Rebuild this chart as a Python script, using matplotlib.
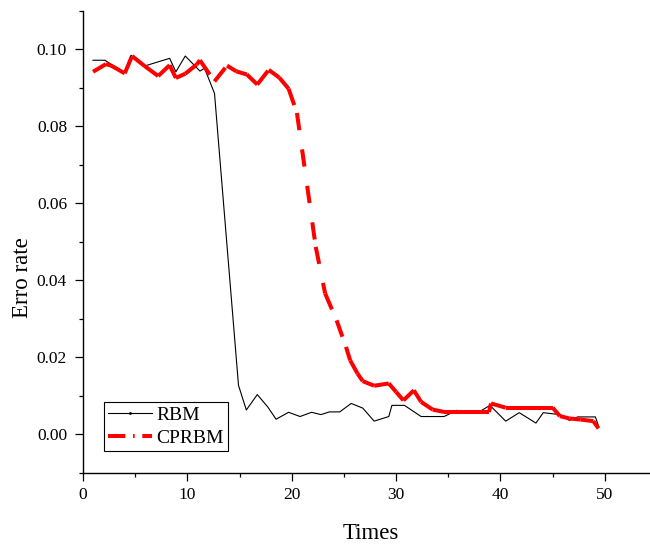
import matplotlib
matplotlib.use("Agg")
import matplotlib.pyplot as plt
from matplotlib.lines import Line2D

plt.rcParams['font.family'] = ['Liberation Serif', 'DejaVu Serif']
plt.rcParams['lines.scale_dashes'] = False

# RBM (black thin line)
rbm_x = [0.96, 2.1, 2.9, 4.0, 4.6, 5.9, 8.3, 8.9, 9.8, 11.2, 11.65, 12.6, 14.9,
         15.65, 16.7, 17.7, 18.5, 19.7, 20.8, 21.9, 22.8, 23.6, 24.6, 25.7, 26.8,
         27.9, 29.3, 29.6, 30.8, 32.4, 34.6, 35.8, 37.7, 39.0, 40.5, 41.8, 43.4,
         44.1, 45.7, 46.6, 47.4, 49.1, 49.4]
rbm_y = [0.0972, 0.0972, 0.0958, 0.0940, 0.0985, 0.0957, 0.0977, 0.0942, 0.0983,
         0.0944, 0.0951, 0.0886, 0.0127, 0.0063, 0.0103, 0.0071, 0.0039, 0.0057,
         0.0046, 0.0057, 0.0051, 0.0058, 0.0058, 0.0080, 0.0068, 0.0034, 0.0046,
         0.0075, 0.0075, 0.0046, 0.0046, 0.0062, 0.0054, 0.0075, 0.0034, 0.0056,
         0.0029, 0.0056, 0.0051, 0.0036, 0.0045, 0.0045, 0.0021]

# CPRBM (red dash-dot line)
cp_x = [0.96, 2.2, 2.7, 4.0, 4.7, 5.9, 7.2, 8.3, 8.9, 9.8, 10.9, 11.2, 12.6, 13.8,
        14.7, 15.7, 16.7, 17.8, 18.8, 19.7, 20.5, 22.3, 23.2, 24.3, 25.2, 25.6,
        26.3, 26.8, 27.9, 29.3, 30.0, 30.7, 31.7, 32.4, 33.5, 34.6, 35.7, 36.8,
        37.8, 38.9, 39.1, 40.5, 41.6, 42.7, 43.8, 45.0, 45.7, 46.6, 47.7, 48.9,
        49.4]
cp_y = [0.0942, 0.0962, 0.0958, 0.0938, 0.0983, 0.0957, 0.0931, 0.0959, 0.0926,
        0.0937, 0.0961, 0.0972, 0.0917, 0.0958, 0.0943, 0.0935, 0.0909, 0.0947,
        0.0927, 0.0898, 0.0835, 0.0487, 0.0366, 0.0296, 0.0227, 0.0192, 0.0158,
        0.0138, 0.0126, 0.0132, 0.0110, 0.0088, 0.0114, 0.0084, 0.0064, 0.0058,
        0.0058, 0.0058, 0.0058, 0.0058, 0.0080, 0.0069, 0.0069, 0.0069, 0.0069,
        0.0069, 0.0047, 0.0041, 0.0038, 0.0034, 0.0015]

x_ticks = [0, 10, 20, 30, 40, 50]
y_ticks = [0.00, 0.02, 0.04, 0.06, 0.08, 0.10]
y_tick_labels = ["0.00", "0.02", "0.04", "0.06", "0.08", "0.10"]

fig = plt.figure(figsize=(6.5, 5.45), dpi=100)
ax = fig.add_axes([83 / 650, 1 - 472.7 / 545, 574 / 650, (472.7 - 11) / 545])

# dash pattern in points (restarted on every segment, like the source)
red_ls = (0, (12.5, 14.0))
ax.plot(rbm_x, rbm_y, color='black', lw=0.8, zorder=2)
for i in range(len(cp_x) - 1):
    ax.plot(cp_x[i:i + 2], cp_y[i:i + 2], color='#ff0000', lw=2.9,
            linestyle=red_ls, solid_capstyle='round', dash_capstyle='butt',
            zorder=3)

ax.set_xlim(0, 55)
ax.set_ylim(-0.01, 0.11)
ax.set_xticks(x_ticks)
ax.set_xticks([5, 15, 25, 35, 45], minor=True)
ax.set_yticks(y_ticks)
ax.set_yticklabels(y_tick_labels)
ax.set_yticks([-0.01, 0.01, 0.03, 0.05, 0.07, 0.09, 0.11], minor=True)

for s in ['top', 'right']:
    ax.spines[s].set_visible(False)
for s in ['left', 'bottom']:
    ax.spines[s].set_linewidth(1.0)

ax.tick_params(axis='both', which='major', direction='out', length=5.5, width=0.9,
               labelsize=12.5)
ax.tick_params(axis='both', which='minor', direction='out', length=3, width=0.9)
ax.tick_params(axis='y', which='major', pad=6)
ax.tick_params(axis='x', which='major', pad=5)

ax.set_xlabel('Times', fontsize=16.5)
ax.set_ylabel('Erro rate', fontsize=16.5)
ax.xaxis.set_label_coords((371 - 83) / 574, -0.108)
ax.yaxis.set_label_coords((33 - 83) / 574, (472.7 - 278) / 461.7)

handles = [Line2D([], [], color='black', lw=0.8, marker='.', markersize=2),
           Line2D([], [], color='#ff0000', lw=2.9, linestyle=(0, (12.5, 5.5, 1.2, 5.5)))]
leg = ax.legend(handles, ['RBM', 'CPRBM'], loc='lower left',
                bbox_to_anchor=(104 / 650, (545 - 451) / 545),
                bbox_transform=fig.transFigure, borderaxespad=0,
                fancybox=False, edgecolor='black', fontsize=14,
                handlelength=2.25, handletextpad=0.25, borderpad=0.2,
                labelspacing=0.3, framealpha=1)
leg.get_frame().set_linewidth(0.8)

fig.savefig('out.png', dpi=100)
